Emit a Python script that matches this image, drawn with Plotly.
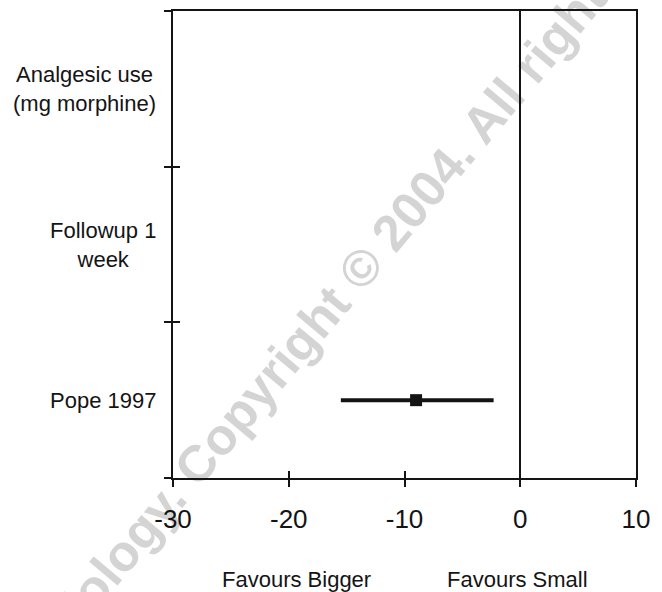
import plotly.graph_objects as go

# Row labels, listed top to bottom
row_labels = ["Analgesic use<br>(mg morphine)", "Followup 1<br>week", "Pope 1997"]
row_pos = [2.5, 1.5, 0.5]

# Study estimate with its confidence interval
study = ["Pope 1997"]
study_pos = [0.5]
estimate = [-9.0]
ci_low = [-15.5]
ci_high = [-2.3]

x_ticks = [-30, -20, -10, 0, 10]
x_tick_text = ["-30", "-20", "-10", "0", "10"]
row_bounds = [0, 1, 2, 3]

FONT = "Liberation Sans, Arial, sans-serif"
INK = "#141414"

fig = go.Figure()

fig.add_trace(go.Scatter(
    x=estimate,
    y=study_pos,
    mode="markers",
    marker=dict(symbol="square", size=12, color=INK),
    error_x=dict(
        type="data",
        symmetric=False,
        array=[h - e for h, e in zip(ci_high, estimate)],
        arrayminus=[e - l for e, l in zip(estimate, ci_low)],
        thickness=4,
        width=0,
        color=INK,
    ),
    name=study[0],
    showlegend=False,
))

# invisible trace on the overlay axes that carry the inward tick marks
fig.add_trace(go.Scatter(
    x=[x_ticks[0]], y=[row_bounds[0]], xaxis="x2", yaxis="y2",
    mode="markers", marker=dict(opacity=0), showlegend=False, hoverinfo="skip",
))

axis_common = dict(showgrid=False, linecolor=INK, linewidth=2,
                   tickcolor=INK, tickwidth=2, ticklen=7)
tick_only = {k: v for k, v in axis_common.items() if k not in ("linecolor", "linewidth")}

fig.update_layout(
    width=662,
    height=592,
    margin=dict(l=173, r=26, t=9, b=114),
    paper_bgcolor="white",
    plot_bgcolor="rgba(0,0,0,0)",
    font=dict(family=FONT, color=INK),
    xaxis=dict(
        range=[-30, 10],
        tickvals=x_ticks,
        ticktext=x_tick_text,
        ticks="outside",
        mirror=True,
        showline=True,
        zeroline=True,
        zerolinecolor=INK,
        zerolinewidth=2,
        tickfont=dict(size=26, family=FONT, color=INK),
        ticklabelstandoff=10,
        **axis_common,
    ),
    yaxis=dict(
        range=[0, 3],
        tickvals=row_bounds,
        ticks="outside",
        showticklabels=False,
        mirror=True,
        showline=True,
        zeroline=False,
        **axis_common,
    ),
    xaxis2=dict(
        overlaying="x",
        matches="x",
        range=[-30, 10],
        tickvals=x_ticks,
        ticks="inside",
        showticklabels=False,
        showline=False,
        zeroline=False,
        side="bottom",
        anchor="y2",
        **tick_only,
    ),
    yaxis2=dict(
        overlaying="y",
        range=[0, 3],
        tickvals=row_bounds[1:-1],
        ticks="inside",
        showticklabels=False,
        showline=False,
        zeroline=False,
        side="left",
        anchor="x2",
        **tick_only,
    ),
)

# row labels, centred as a block just left of the axis
for label, y in zip(row_labels, row_pos):
    fig.add_annotation(
        text=label, x=-0.032, xref="paper", y=y, yref="y",
        xanchor="right", yanchor="middle", align="center",
        showarrow=False, font=dict(size=22, family=FONT, color=INK),
    )

# direction captions under the axis
for text, xp in [("Favours Bigger", 0.266), ("Favours Small", 0.745)]:
    fig.add_annotation(
        text=text, x=xp, xref="paper", y=-0.2175, yref="paper",
        xanchor="center", yanchor="middle", showarrow=False,
        font=dict(size=22, family=FONT, color=INK),
    )

# publisher watermark across the page, kept beneath the axes and labels
fig.add_shape(
    type="rect", xref="paper", yref="paper",
    x0=0.455, x1=0.465, y0=0.525, y1=0.535,
    line=dict(width=0), fillcolor="rgba(0,0,0,0)", layer="below",
    label=dict(
        text="Radiology. Copyright © 2004. All rights reserved.",
        textangle=-50, textposition="middle center",
        font=dict(size=51, family=FONT, color="#d4d4d4", weight="bold"),
    ),
)

fig.write_html("out.html")
